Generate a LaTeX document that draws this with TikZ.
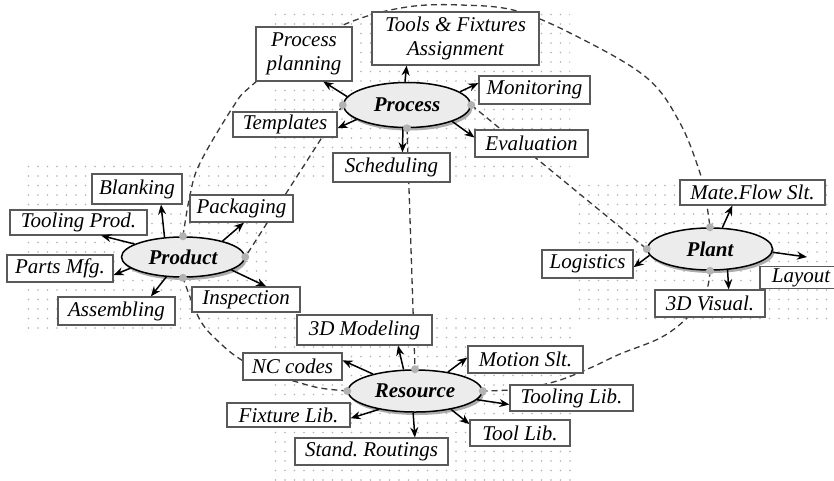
\documentclass[tikz,border=0pt]{standalone}
\usepackage{fontspec}
\setmainfont{Liberation Serif}
\usetikzlibrary{shapes.geometric,arrows.meta,patterns.meta,shadows}
\pgfdeclarelayer{back0}
\pgfdeclarelayer{background}
\pgfsetlayers{back0,background,main}
\frenchspacing
\begin{document}
\begin{tikzpicture}[x=1pt,y=-1pt,
  dotarea/.style={pattern={Dots[distance=9.5pt,radius=0.9pt]},pattern color=gray!60},
  hub/.style={ellipse, draw=black, line width=1.5pt, fill=gray!15, inner sep=0pt,
    font=\fontsize{21}{24}\selectfont\bfseries\itshape,
    drop shadow={shadow xshift=2pt, shadow yshift=-3pt, fill=gray!65, opacity=1}},
  itembox/.style={draw=black!65, line width=1.2pt, fill=white, inner sep=0pt,
    font=\fontsize{21}{24}\selectfont\itshape, align=center},
  arrowline/.style={-{Stealth[length=10pt,width=8pt]}, line width=1.5pt},
  dashlink/.style={draw=gray!45!black, dash pattern=on 6pt off 4pt, line width=1.3pt},
  joint/.style={circle, fill=gray!60, inner sep=0pt, minimum size=8pt}
]
\useasboundingbox (0,0) rectangle (834,480);

% dotted regions
\begin{pgfonlayer}{back0}
\fill[white] (0,0) rectangle (834,480);
\fill[dotarea] (273,7) rectangle (570,182);
\fill[dotarea] (27,165) rectangle (272,330);
\fill[dotarea] (573,177) rectangle (834,325);
\fill[dotarea] (270,315) rectangle (575,480);
\end{pgfonlayer}

% main ellipses
\node[hub, minimum width=127pt, minimum height=45pt] (process) at (407,105) {Process};
\node[hub, minimum width=123pt, minimum height=40pt] (product) at (183,257) {Product};
\node[hub, minimum width=125pt, minimum height=42pt] (plant) at (710,249) {Plant};
\node[hub, minimum width=134pt, minimum height=42pt] (resource) at (415,391) {Resource};

% process boxes
\node[itembox, minimum width=96pt, minimum height=54pt] (pplan) at (304,54) {Process\\planning};
\node[itembox, minimum width=167pt, minimum height=53pt] (tools) at (455.5,38.5) {Tools \& Fixtures\\Assignment};
\node[itembox, minimum width=111pt, minimum height=28pt] (monit) at (534.5,90) {Monitoring};
\node[itembox, minimum width=104pt, minimum height=25pt] (templ) at (285,124.5) {Templates};
\node[itembox, minimum width=113pt, minimum height=27pt] (evalu) at (531.5,143.5) {Evaluation};
\node[itembox, minimum width=117pt, minimum height=29pt] (sched) at (391.5,167.5) {Scheduling};

% product boxes
\node[itembox, minimum width=90pt, minimum height=30pt] (blank) at (137,189) {Blanking};
\node[itembox, minimum width=103pt, minimum height=27pt] (pack) at (241.5,208.5) {Packaging};
\node[itembox, minimum width=137pt, minimum height=25pt] (tprod) at (78.5,222.5) {Tooling Prod.};
\node[itembox, minimum width=106pt, minimum height=27pt] (parts) at (60,268.5) {Parts Mfg.};
\node[itembox, minimum width=117pt, minimum height=28pt] (assem) at (116.5,311) {Assembling};
\node[itembox, minimum width=108pt, minimum height=25pt] (insp) at (246,299.5) {Inspection};

% plant boxes
\node[itembox, minimum width=145pt, minimum height=25pt] (mate) at (752.5,192.5) {Mate.Flow Slt.};
\node[itembox, minimum width=91pt, minimum height=28pt] (logis) at (587.5,264) {Logistics};
\node[itembox, minimum width=82pt, minimum height=22pt] (layout) at (801,277.5) {Layout};
\node[itembox, minimum width=110pt, minimum height=27pt] (vis) at (710,303.5) {3D Visual.};
\coordinate (layouttip) at (807,257);

% resource boxes
\node[itembox, minimum width=135pt, minimum height=30pt] (model) at (364.5,330) {3D Modeling};
\node[itembox, minimum width=99pt, minimum height=27pt] (nccodes) at (292.5,366.5) {NC codes};
\node[itembox, minimum width=115pt, minimum height=27pt] (motion) at (525.5,359.5) {Motion Slt.};
\node[itembox, minimum width=123pt, minimum height=26pt] (toolinglib) at (571.5,398) {Tooling Lib.};
\node[itembox, minimum width=100pt, minimum height=26pt] (toollib) at (520,433) {Tool Lib.};
\node[itembox, minimum width=123pt, minimum height=24pt] (fixt) at (288.5,415) {Fixture Lib.};
\node[itembox, minimum width=153pt, minimum height=27pt] (stand) at (371.5,451.5) {Stand. Routings};

% dashed links
\begin{pgfonlayer}{background}
\draw[dashlink] (process.south) -- (resource.north);
\draw[dashlink] (process.east) -- (plant.west);
\draw[dashlink] (process.west) -- (product.east);
\draw[dashlink] plot[smooth, tension=0.6] coordinates {(product.north) (190,195) (200,163) (233,107) (250,87) (300,48) (353,21) (407,7) (460,5) (517,11) (580,38) (647,78) (680,123) (700,173) (706,200) (plant.north)};
\draw[dashlink] plot[smooth, tension=0.6] coordinates {(plant.south) (706,292) (690,315) (662,337) (620,354) (590,368) (557,381) (520,389) (resource.east)};
\draw[dashlink] plot[smooth, tension=0.6] coordinates {(resource.west) (320,388) (297,382) (265,372) (240,359) (220,343) (200,320) (product.south)};
\end{pgfonlayer}

% arrows
\draw[arrowline] (process.172) -- (pplan.-55);
\draw[arrowline] (process.95) -- (tools.209);
\draw[arrowline] (process.14) -- (monit.173);
\draw[arrowline] (process.196) -- (templ.-4);
\draw[arrowline] (process.260) -- (sched.54);
\draw[arrowline] (process.-20) -- (evalu.174);

\draw[arrowline] (product.133) -- (blank.-33);
\draw[arrowline] (product.165) -- (tprod.-30);
\draw[arrowline] (product.192) -- (parts.-7);
\draw[arrowline] (product.230) -- (assem.23);
\draw[arrowline] (product.22) -- (pack.-80);
\draw[arrowline] (product.-15) -- (insp.33);

\draw[arrowline] (plant.60) -- (mate.213);
\draw[arrowline] (plant.186) -- (logis.-4);
\draw[arrowline] (plant.-3) -- (layouttip);
\draw[arrowline] (plant.-50) -- (vis.37);

\draw[arrowline] (resource.118) -- (model.-25);
\draw[arrowline] (resource.158) -- (nccodes.7);
\draw[arrowline] (resource.30) -- (motion.178);
\draw[arrowline] (resource.-8) -- (toolinglib.186);
\draw[arrowline] (resource.-27) -- (toollib.170);
\draw[arrowline] (resource.265) -- (stand.18);
\draw[arrowline] (resource.207) -- (fixt.-3);

% joints
\node[joint] (jpw) at (process.west) {};
\node[joint] (jpe) at (process.east) {};
\node[joint] (jps) at (process.south) {};
\node[joint] (jdn) at (product.north) {};
\node[joint] (jde) at (product.east) {};
\node[joint] (jds) at (product.south) {};
\node[joint] (jln) at (plant.north) {};
\node[joint] (jlw) at (plant.west) {};
\node[joint] (jls) at (plant.south) {};
\node[joint] (jrn) at (resource.north) {};
\node[joint] (jrw) at (resource.west) {};
\node[joint] (jre) at (resource.east) {};
\end{tikzpicture}
\end{document}
